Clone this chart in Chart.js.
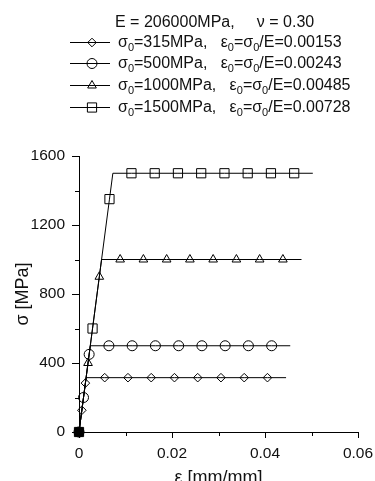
<!DOCTYPE html>
<html>
<head>
<meta charset="utf-8">
<script src="https://cdn.jsdelivr.net/npm/chart.js@4.4.0/dist/chart.umd.min.js"></script>
<style>
  html, body { margin: 0; padding: 0; background: #fff; overflow: hidden; }
  body { width: 375px; height: 481px; position: relative; font-family: "Liberation Sans", Arial, sans-serif; color: #111; }
  #wrap { position: absolute; left: 0; top: 0; width: 375px; height: 490px; }
  .lg { position: absolute; font-size: 16px; white-space: nowrap; line-height: 20px; }
  .lg sub { font-size: 11px; vertical-align: -4px; line-height: 0; }
  .sym { position: absolute; left: 68px; width: 48px; height: 20px; }
</style>
</head>
<body>
<div id="wrap"><canvas id="chart"></canvas></div>
<div class="lg" style="left:115px; top:12px;">E = 206000MPa,&nbsp;&nbsp;&nbsp;&nbsp;&nbsp;ν = 0.30</div>
<div id="legend"></div>
<script>
// strain [mm/mm] and stress [MPa] for each yield stress
const eps315 = [0, 0.000612, 0.001376, 0.00153, 0.00553, 0.01053, 0.01553, 0.02053, 0.02553, 0.03053, 0.03553, 0.04053, 0.04453];
const sig315 = [0, 126, 283.5, 315, 315, 315, 315, 315, 315, 315, 315, 315, 315];
const eps500 = [0, 0.000971, 0.002184, 0.00243, 0.00643, 0.01143, 0.01643, 0.02143, 0.02643, 0.03143, 0.03643, 0.04143, 0.04543];
const sig500 = [0, 200, 450, 500, 500, 500, 500, 500, 500, 500, 500, 500, 500];
const eps1000 = [0, 0.001942, 0.004369, 0.00485, 0.00885, 0.01385, 0.01885, 0.02385, 0.02885, 0.03385, 0.03885, 0.04385, 0.04785];
const sig1000 = [0, 400, 900, 1000, 1000, 1000, 1000, 1000, 1000, 1000, 1000, 1000, 1000];
const eps1500 = [0, 0.002913, 0.006553, 0.00728, 0.01128, 0.01628, 0.02128, 0.02628, 0.03128, 0.03628, 0.04128, 0.04628, 0.05028];
const sig1500 = [0, 600, 1350, 1500, 1500, 1500, 1500, 1500, 1500, 1500, 1500, 1500, 1500];

const legendHtml = [
  'σ<sub>0</sub>=315MPa,&nbsp;&nbsp;&nbsp;ε<sub>0</sub>=σ<sub>0</sub>/E=0.00153',
  'σ<sub>0</sub>=500MPa,&nbsp;&nbsp;&nbsp;ε<sub>0</sub>=σ<sub>0</sub>/E=0.00243',
  'σ<sub>0</sub>=1000MPa,&nbsp;&nbsp;&nbsp;ε<sub>0</sub>=σ<sub>0</sub>/E=0.00485',
  'σ<sub>0</sub>=1500MPa,&nbsp;&nbsp;&nbsp;ε<sub>0</sub>=σ<sub>0</sub>/E=0.00728'
];
const xTicks = [0, 0.02, 0.04, 0.06];
const xMinor = [0.01, 0.03, 0.05];
const yTicks = [0, 400, 800, 1200, 1600];
const yMinor = [200, 600, 1000, 1400];

const FONT = '"Liberation Sans", Arial, sans-serif';
const markers = [
  { style: 'rectRot', radius: 4.3 },
  { style: 'circle', radius: 5 },
  { style: 'triangle', radius: 5 },
  { style: 'rect', radius: 6.5 }
];

const toPoints = (xs, ys) => xs.map((x, i) => ({ x: x, y: ys[i] }));

const makeSet = (label, xs, ys, m) => ({
  label: label,
  data: toPoints(xs, ys),
  borderColor: '#000',
  borderWidth: 1,
  pointStyle: m.style,
  pointRadius: ctx => (ctx.dataIndex === 3 || ctx.dataIndex === xs.length - 1) ? 0 : m.radius,
  pointBorderColor: '#000',
  pointBorderWidth: 1,
  pointBackgroundColor: ctx => (m.style === 'rect' && ctx.dataIndex === 0) ? '#000' : 'rgba(0,0,0,0)',
  pointHoverRadius: 0,
  tension: 0,
  clip: false
});

// minor ticks (Chart.js has no minor ticks of its own)
const minorTicks = {
  id: 'minorTicks',
  afterDraw(chart) {
    const { ctx, chartArea, scales } = chart;
    ctx.save();
    ctx.strokeStyle = '#000';
    ctx.lineWidth = 1;
    ctx.beginPath();
    xMinor.forEach(v => {
      const px = Math.round(scales.x.getPixelForValue(v)) + 0.5;
      ctx.moveTo(px, chartArea.bottom);
      ctx.lineTo(px, chartArea.bottom + 4);
    });
    yMinor.forEach(v => {
      const py = Math.round(scales.y.getPixelForValue(v)) + 0.5;
      ctx.moveTo(chartArea.left, py);
      ctx.lineTo(chartArea.left - 4, py);
    });
    ctx.stroke();
    ctx.restore();
  }
};

const ctx = document.getElementById('chart').getContext('2d');
const chart = new Chart(ctx, {
  type: 'line',
  data: {
    datasets: [
      makeSet('315', eps315, sig315, markers[0]),
      makeSet('500', eps500, sig500, markers[1]),
      makeSet('1000', eps1000, sig1000, markers[2]),
      makeSet('1500', eps1500, sig1500, markers[3])
    ]
  },
  options: {
    responsive: true,
    maintainAspectRatio: false,
    animation: false,
    layout: { padding: { top: 156, right: 17, left: 0, bottom: 0 } },
    plugins: { legend: { display: false }, tooltip: { enabled: false } },
    scales: {
      x: {
        type: 'linear',
        min: 0,
        max: 0.06,
        afterFit: s => { s.height = 58; s.paddingLeft = 0; s.paddingRight = 0; },
        afterBuildTicks: s => { s.ticks = xTicks.map(v => ({ value: v })); },
        ticks: {
          color: '#111',
          padding: 6,
          maxRotation: 0,
          font: { family: FONT, size: 15.5 },
          callback: v => String(v)
        },
        grid: { drawOnChartArea: false, drawTicks: true, tickLength: 6, color: '#000', tickColor: '#000' },
        border: { display: true, color: '#000', width: 1 },
        title: { display: true, text: 'ε [mm/mm]', color: '#111', font: { family: FONT, size: 18 }, padding: { top: 0, bottom: 1 } }
      },
      y: {
        type: 'linear',
        min: 0,
        max: 1600,
        afterFit: s => { s.width = 79; },
        afterBuildTicks: s => { s.ticks = yTicks.map(v => ({ value: v })); },
        ticks: {
          color: '#111',
          padding: 7,
          font: { family: FONT, size: 15.5 },
          callback: v => String(v)
        },
        grid: { drawOnChartArea: false, drawTicks: true, tickLength: 7, color: '#000', tickColor: '#000' },
        border: { display: true, color: '#000', width: 1 },
        title: { display: true, text: 'σ [MPa]', color: '#111', font: { family: FONT, size: 18 }, padding: { top: 12, bottom: 0 } }
      }
    }
  },
  plugins: [minorTicks]
});

// legend rows: line with marker + text
const legendEl = document.getElementById('legend');
const rowTops = [32, 53, 75, 97];
legendHtml.forEach((html, i) => {
  const sym = document.createElement('canvas');
  sym.className = 'sym';
  sym.width = 48;
  sym.height = 20;
  sym.style.top = rowTops[i] + 'px';
  legendEl.appendChild(sym);
  const c = sym.getContext('2d');
  c.strokeStyle = '#000';
  c.fillStyle = 'rgba(0,0,0,0)';
  c.lineWidth = 1;
  c.beginPath();
  c.moveTo(2, 10.5);
  c.lineTo(42, 10.5);
  c.stroke();
  Chart.helpers.drawPoint(c, {
    pointStyle: markers[i].style,
    radius: markers[i].radius,
    borderWidth: 1
  }, 24, 10.5);

  const txt = document.createElement('div');
  txt.className = 'lg';
  txt.style.left = '118px';
  txt.style.top = rowTops[i] + 'px';
  txt.innerHTML = html;
  legendEl.appendChild(txt);
});
</script>
</body>
</html>
